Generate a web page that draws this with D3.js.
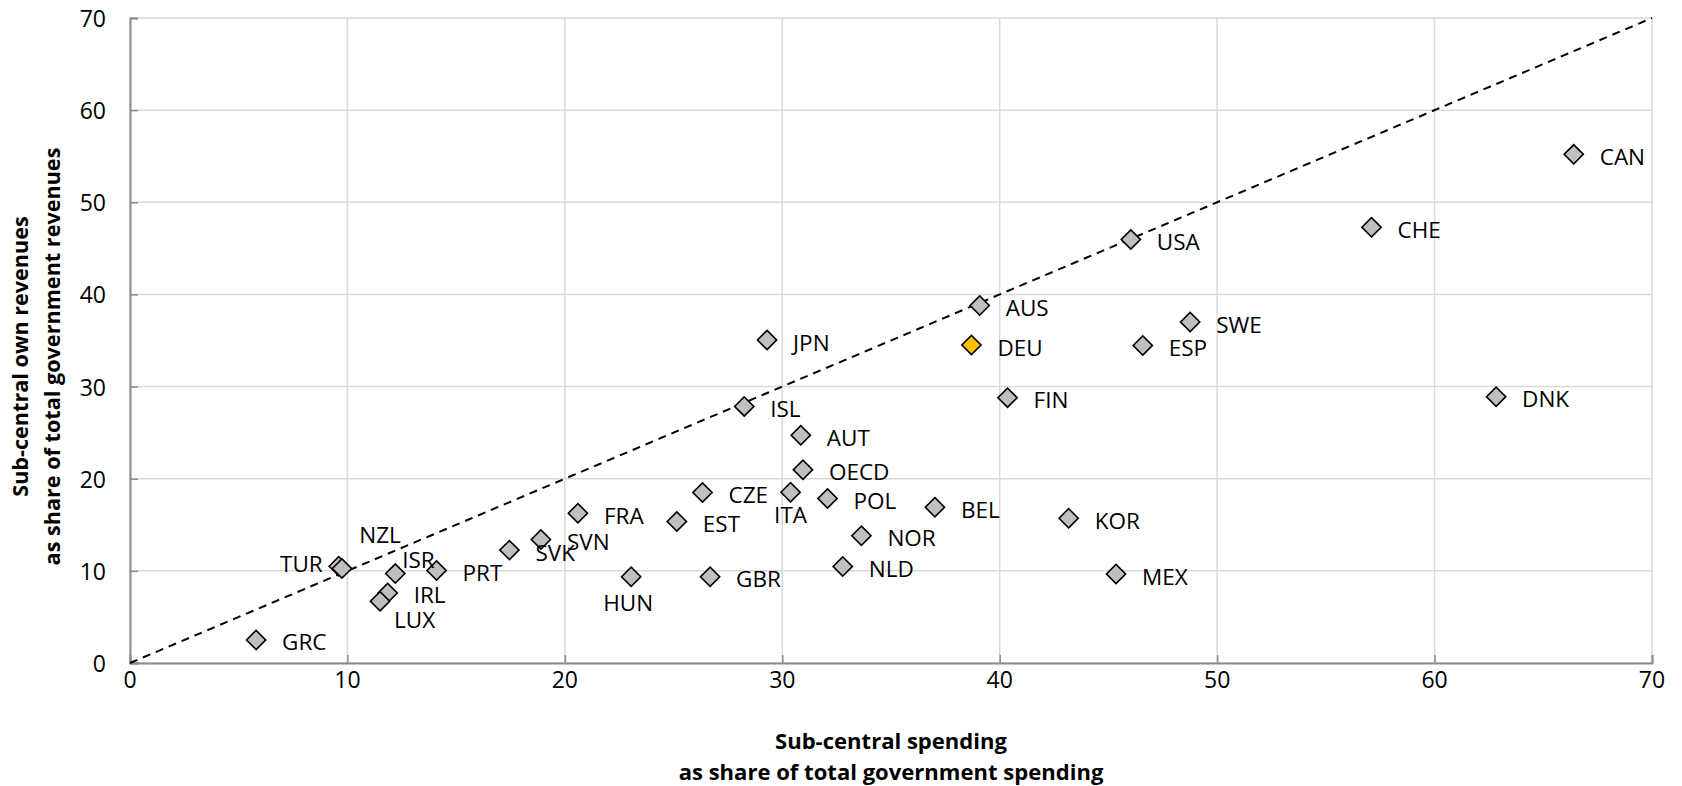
<!DOCTYPE html>
<html>
<head>
<meta charset="utf-8">
<script src="https://cdn.jsdelivr.net/npm/d3@7"></script>
<style>
  body { margin: 0; background: #fff; }
  text { font-family: "Open Sans", sans-serif; fill: #000; }
</style>
</head>
<body>
<div id="chart"></div>
<script>
// values
const countries = ["GRC", "TUR", "NZL", "ISR", "IRL", "LUX", "PRT", "SVK", "SVN", "FRA",
  "HUN", "EST", "CZE", "GBR", "ISL", "JPN", "ITA", "AUT", "OECD", "POL",
  "NLD", "NOR", "BEL", "DEU", "AUS", "FIN", "KOR", "MEX", "USA", "ESP",
  "SWE", "CHE", "DNK", "CAN"];
const spending = [5.8, 9.6, 9.75, 12.2, 11.85, 11.5, 14.1, 17.45, 18.9, 20.6,
  23.05, 25.15, 26.33, 26.68, 28.25, 29.3, 30.38, 30.85, 30.95, 32.08,
  32.78, 33.64, 37.02, 38.7, 39.08, 40.36, 43.17, 45.35, 46.03, 46.58,
  48.76, 57.1, 62.83, 66.4];
const revenues = [2.5, 10.5, 10.25, 9.7, 7.6, 6.7, 10.05, 12.25, 13.4, 16.25,
  9.35, 15.35, 18.5, 9.35, 27.85, 35.05, 18.52, 24.72, 20.97, 17.85,
  10.47, 13.8, 16.9, 34.5, 38.8, 28.8, 15.7, 9.65, 45.95, 34.45,
  37.0, 47.3, 28.9, 55.2];
const highlighted = "DEU";
const xTicks = [0, 10, 20, 30, 40, 50, 60, 70];
const yTicks = [0, 10, 20, 30, 40, 50, 60, 70];

// labels that are not simply to the right of the marker
const labelPlace = {
  TUR: {dx: -16, dy: -3, anchor: "end"},
  NZL: {dx: 38, dy: -34, anchor: "middle"},
  ISR: {dx: 7, dy: -14, anchor: "start"},
  LUX: {dx: 14, dy: 18, anchor: "start"},
  HUN: {dx: -3, dy: 26, anchor: "middle"},
  ITA: {dx: 0, dy: 22, anchor: "middle"}
};

const W = 1682, H = 786;
const margin = {top: 18, right: 30, bottom: 123, left: 130};
const width = W - margin.left - margin.right,
      height = H - margin.top - margin.bottom;

const svg = d3.select("#chart").append("svg")
    .attr("width", W)
    .attr("height", H);
const g = svg.append("g")
    .attr("transform", "translate(" + margin.left + "," + margin.top + ")");

const x = d3.scaleLinear().domain([0, 70]).range([0, width]);
const y = d3.scaleLinear().domain([0, 70]).range([height, 0]);

// gridlines
g.append("g").selectAll("line").data(xTicks).enter().append("line")
    .attr("x1", d => x(d)).attr("x2", d => x(d))
    .attr("y1", 0).attr("y2", height)
    .attr("stroke", "#d9d9d9").attr("stroke-width", 1.5);
g.append("g").selectAll("line").data(yTicks).enter().append("line")
    .attr("x1", 0).attr("x2", width)
    .attr("y1", d => y(d)).attr("y2", d => y(d))
    .attr("stroke", "#d9d9d9").attr("stroke-width", 1.5);

// axes with inside ticks
const xAxis = g.append("g")
    .attr("transform", "translate(0," + height + ")")
    .call(d3.axisTop(x).tickValues(xTicks).tickSize(8).tickFormat(""));
const yAxis = g.append("g")
    .call(d3.axisRight(y).tickValues(yTicks).tickSize(8).tickFormat(""));
[xAxis, yAxis].forEach(a => {
  a.select(".domain").attr("stroke", "#8c8c8c").attr("stroke-width", 2);
  a.selectAll(".tick line").attr("stroke", "#8c8c8c").attr("stroke-width", 1.5);
});

// tick labels
g.append("g").selectAll("text").data(xTicks).enter().append("text")
    .attr("x", d => x(d))
    .attr("y", height + 16)
    .attr("text-anchor", "middle")
    .attr("dominant-baseline", "central")
    .style("font-size", "23px")
    .text(d => d);
g.append("g").selectAll("text").data(yTicks).enter().append("text")
    .attr("x", -24)
    .attr("y", d => y(d))
    .attr("text-anchor", "end")
    .attr("dominant-baseline", "central")
    .style("font-size", "23px")
    .text(d => d);

// 45 degree line
g.append("line")
    .attr("x1", x(0)).attr("y1", y(0))
    .attr("x2", x(70)).attr("y2", y(70))
    .attr("stroke", "#000")
    .attr("stroke-width", 2)
    .attr("stroke-dasharray", "8,6");

const points = countries.map((c, i) => ({name: c, sx: spending[i], ry: revenues[i]}));

// markers
const diamond = d3.symbol().type(d3.symbolSquare).size(185);
g.append("g").selectAll("path").data(points).enter().append("path")
    .attr("d", diamond)
    .attr("transform", d => "translate(" + x(d.sx) + "," + y(d.ry) + ") rotate(45)")
    .attr("fill", d => d.name === highlighted ? "#ffc000" : "#bfbfbf")
    .attr("stroke", "#000")
    .attr("stroke-width", 1.6);

// point labels
g.append("g").selectAll("text").data(points).enter().append("text")
    .attr("x", d => x(d.sx) + (labelPlace[d.name] ? labelPlace[d.name].dx : 26))
    .attr("y", d => y(d.ry) + (labelPlace[d.name] ? labelPlace[d.name].dy : 2))
    .attr("text-anchor", d => labelPlace[d.name] ? labelPlace[d.name].anchor : "start")
    .attr("dominant-baseline", "central")
    .style("font-size", "22.5px")
    .text(d => d.name);

// axis titles, sized so the longer line spans about as wide as in the original
function fitTitle(sel, target) {
  const t = sel.select("tspan:last-child").node();
  const size = 20 * target / t.getComputedTextLength();
  sel.style("font-size", size + "px");
}

const xt = g.append("text")
    .attr("text-anchor", "middle")
    .attr("dominant-baseline", "central")
    .style("font-size", "20px")
    .style("font-weight", "bold");
xt.append("tspan").attr("x", width / 2).attr("y", height + 77).text("Sub-central spending");
xt.append("tspan").attr("x", width / 2).attr("y", height + 108).text("as share of total government spending");
fitTitle(xt, 425);

const yt = g.append("text")
    .attr("transform", "translate(" + (-111) + "," + (height / 2 + 16) + ") rotate(-90)")
    .attr("text-anchor", "middle")
    .attr("dominant-baseline", "central")
    .style("font-size", "20px")
    .style("font-weight", "bold");
yt.append("tspan").attr("x", 0).attr("y", 0).text("Sub-central own revenues");
yt.append("tspan").attr("x", 0).attr("y", 32).text("as share of total government revenues");
fitTitle(yt, 418);
</script>
</body>
</html>
